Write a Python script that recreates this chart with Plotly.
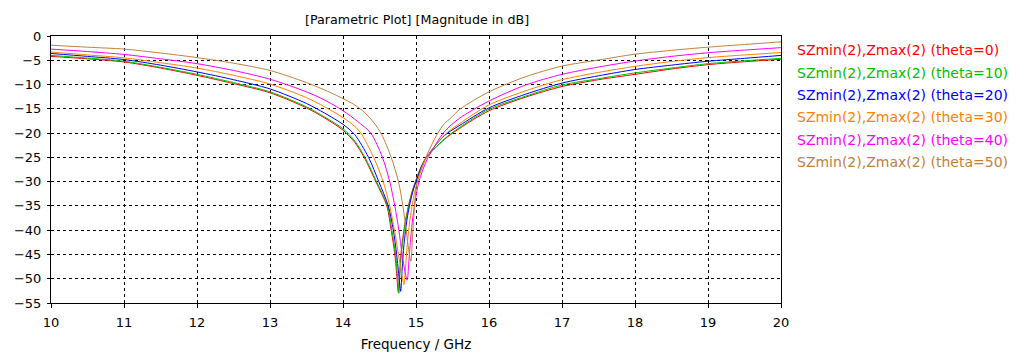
import plotly.graph_objects as go

# ---- data ----
series_names = [
    "SZmin(2),Zmax(2) (theta=0)",
    "SZmin(2),Zmax(2) (theta=10)",
    "SZmin(2),Zmax(2) (theta=20)",
    "SZmin(2),Zmax(2) (theta=30)",
    "SZmin(2),Zmax(2) (theta=40)",
    "SZmin(2),Zmax(2) (theta=50)",
]
series_colors = ["#ff0000", "#00c000", "#0000ff", "#ff8000", "#ff00ff", "#c08040"]

f_t0 = [10, 10.5, 11, 11.5, 12, 12.5, 13, 13.5, 13.75, 14, 14.16, 14.29, 14.45, 14.6, 14.66, 14.71, 14.74, 14.757,
        14.775, 14.8, 14.85, 14.92, 14.98, 15.12, 15.39, 15.6, 16, 16.5, 17, 17.5, 18, 18.5, 19, 19.5, 20]
db_t0 = [-4.2, -4.7, -5.35, -6.6, -8.1, -9.8, -11.7, -14.8, -16.9, -19.4, -21.9, -25, -30, -35, -40, -45, -50, -52.8,
         -49, -44, -38.5, -33.5, -30.5, -25.5, -21.3, -19.0, -15.4, -12.6, -10.4, -9.0, -7.9, -6.8, -5.9, -5.3, -4.8]

f_t10 = [10, 10.5, 11, 11.5, 12, 12.5, 13, 13.5, 13.75, 14, 14.16, 14.3, 14.46, 14.61, 14.67, 14.72, 14.75, 14.765,
         14.78, 14.805, 14.855, 14.925, 14.985, 15.12, 15.39, 15.6, 16, 16.5, 17, 17.5, 18, 18.5, 19, 19.5, 20]
db_t10 = [-4.0, -4.55, -5.2, -6.45, -7.9, -9.6, -11.5, -14.6, -16.7, -19.1, -21.6, -25, -30, -35, -40, -45, -50, -53,
          -49, -44, -38.5, -33.5, -30.5, -25.5, -21.2, -18.8, -15.1, -12.4, -10.1, -8.8, -7.6, -6.6, -5.7, -5.1, -4.6]

f_t20 = [10, 10.5, 11, 11.5, 12, 12.5, 13, 13.5, 13.75, 14, 14.16, 14.35, 14.49, 14.62, 14.69, 14.735, 14.77, 14.79,
         14.81, 14.835, 14.88, 14.94, 15.0, 15.13, 15.39, 15.6, 16, 16.5, 17, 17.5, 18, 18.5, 19, 19.5, 20]
db_t20 = [-3.6, -4.2, -4.85, -6.0, -7.4, -9.0, -10.9, -13.9, -15.9, -18.2, -20.3, -25, -30, -35, -40, -45, -50, -52.6,
          -48, -43, -37.5, -33, -30, -25.3, -20.5, -18.4, -14.8, -12.0, -9.7, -8.2, -6.9, -6.0, -5.2, -4.6, -4.0]

f_t30 = [10, 10.5, 11, 11.5, 12, 12.5, 13, 13.5, 13.75, 14, 14.16, 14.245, 14.42, 14.55, 14.64, 14.705, 14.76, 14.81, 14.835,
         14.855, 14.88, 14.92, 14.97, 15.02, 15.14, 15.39, 15.6, 16, 16.5, 17, 17.5, 18, 18.5, 19, 19.5, 20]
db_t30 = [-3.3, -3.9, -4.5, -5.5, -6.6, -8.1, -9.9, -12.7, -14.6, -16.8, -18.6, -20, -25, -30, -35, -40, -45, -49.5, -51.2,
          -48, -43, -37.5, -33, -30, -25.2, -20.4, -18.0, -14.2, -11.3, -9.0, -7.5, -6.25, -5.25, -4.45, -3.9, -3.4]

f_t40 = [10, 10.5, 11, 11.5, 12, 12.5, 13, 13.5, 13.75, 14, 14.2, 14.38, 14.54, 14.64, 14.71, 14.765, 14.81, 14.855, 14.88,
         14.9, 14.925, 14.96, 15.0, 15.04, 15.15, 15.39, 15.6, 16, 16.5, 17, 17.5, 18, 18.5, 19, 19.5, 20]
db_t40 = [-2.7, -3.2, -3.8, -4.7, -5.7, -7.1, -8.9, -11.5, -13.2, -15.4, -17.6, -20, -25, -30, -35, -40, -45, -49, -50.3,
          -47, -42, -37, -33, -30, -25.5, -19.7, -16.9, -13.4, -10.1, -7.9, -6.4, -5.15, -4.2, -3.45, -2.9, -2.4]

f_t50 = [10, 10.5, 11, 11.5, 12, 12.5, 13, 13.5, 13.82, 14, 14.15, 14.3, 14.42, 14.53, 14.66, 14.76, 14.82, 14.865, 14.9,
         14.93, 14.95, 14.975, 15.01, 15.08, 15.15, 15.28, 15.39, 15.47, 15.6, 16, 16.5, 17, 17.5, 18, 18.5, 19, 19.5, 20]
db_t50 = [-1.9, -2.3, -2.7, -3.5, -4.45, -5.6, -7.1, -9.6, -11.6, -12.9, -14.1, -15.8, -17.8, -20.3, -25, -30, -35, -40, -44,
          -46.4, -42, -36, -30.5, -27, -24.5, -20.5, -18.0, -17.0, -15.1, -11.5, -8.4, -6.2, -4.95, -3.75, -2.95, -2.3, -1.75, -1.2]

freqs = [f_t0, f_t10, f_t20, f_t30, f_t40, f_t50]
values = [db_t0, db_t10, db_t20, db_t30, db_t40, db_t50]

x_ticks = [10, 11, 12, 13, 14, 15, 16, 17, 18, 19, 20]
y_ticks = [0, -5, -10, -15, -20, -25, -30, -35, -40, -45, -50, -55]

title_text = "[Parametric Plot] [Magnitude in dB]"
x_title = "Frequency / GHz"

FONT = "DejaVu Sans"

fig = go.Figure()
for fx, vy, name, col in zip(freqs, values, series_names, series_colors):
    fig.add_trace(go.Scatter(x=fx, y=vy, mode="lines", name=name,
                             line=dict(color=col, width=1, shape="spline", smoothing=0.8),
                             showlegend=False))

# text-only legend like the reference
for i, (name, col) in enumerate(zip(series_names, series_colors)):
    fig.add_annotation(text=name, xref="paper", yref="paper", x=1.0195, y=0.9466 - i * 0.0837,
                       xanchor="left", yanchor="middle", showarrow=False,
                       font=dict(family=FONT, size=14, color=col))

fig.add_annotation(text=title_text, xref="paper", yref="paper", x=0.501, y=1.0, yshift=17,
                   xanchor="center", yanchor="middle", showarrow=False,
                   font=dict(family=FONT, size=12.7, color="black"))

axis_common = dict(showline=True, linecolor="black", linewidth=1, mirror=True,
                   showgrid=True, gridcolor="black", gridwidth=1, griddash="3px,3px",
                   zeroline=False, ticks="outside", tickcolor="black", automargin=False,
                   tickfont=dict(family=FONT, size=13, color="black"))

fig.update_xaxes(range=[10, 20], tickvals=x_ticks, ticklen=4, ticklabelstandoff=3,
                 title=dict(text=x_title, font=dict(family=FONT, size=13.5, color="black"), standoff=10),
                 **axis_common)
fig.update_yaxes(range=[-55, 0], tickvals=y_ticks, ticklen=3, ticklabelstandoff=3, **axis_common)

fig.update_layout(width=1024, height=355, margin=dict(l=51, r=243, t=36, b=52),
                  paper_bgcolor="white", plot_bgcolor="white",
                  font=dict(family=FONT, size=12, color="black"))

fig.write_html("out.html", config={"displayModeBar": False},
               post_script="document.body.style.margin='0px';document.documentElement.style.overflow='hidden';")
